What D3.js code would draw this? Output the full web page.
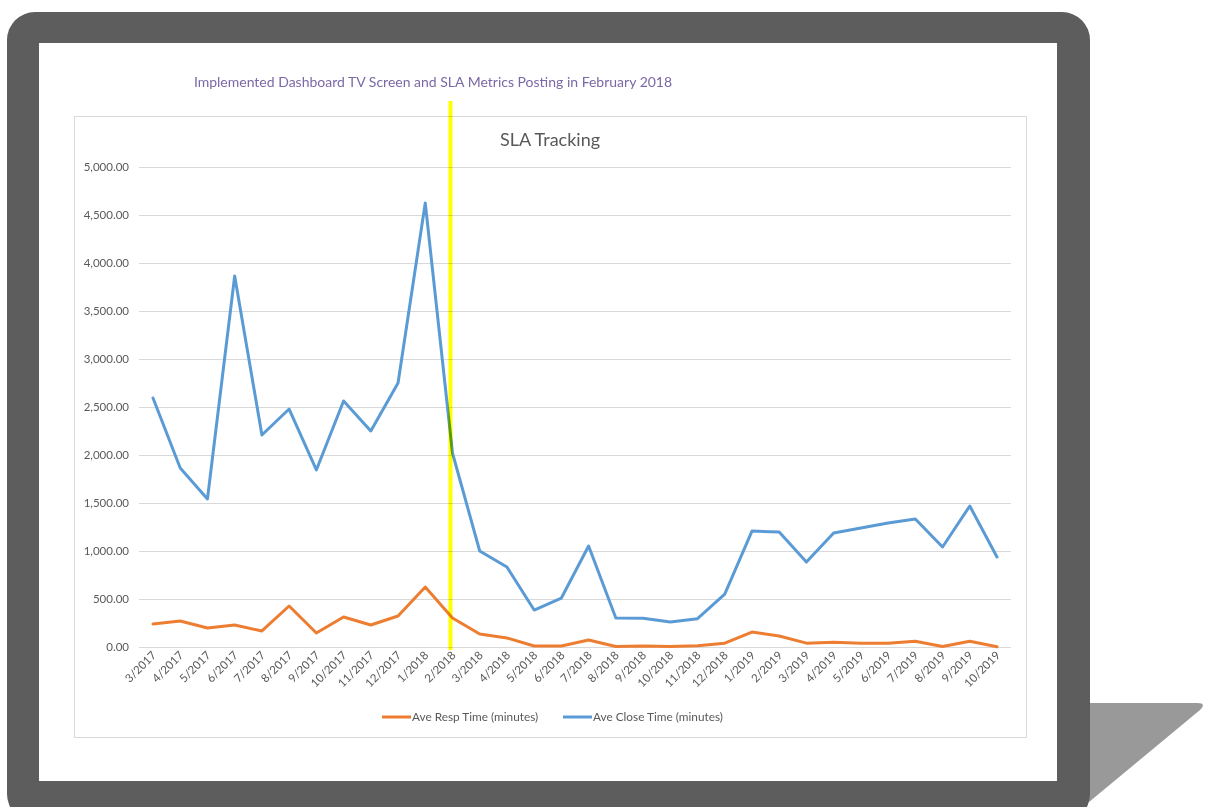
<!DOCTYPE html>
<html>
<head>
<meta charset="utf-8">
<script src="https://cdn.jsdelivr.net/npm/d3@7"></script>
<style>
  body { margin: 0; background: #fff; }
  svg { display: block; font-family: Lato, "Open Sans", sans-serif; }
</style>
</head>
<body>
<svg id="chart" width="1205" height="807"></svg>
<script>
// months on the category axis
var months = ["3/2017","4/2017","5/2017","6/2017","7/2017","8/2017","9/2017","10/2017","11/2017","12/2017",
  "1/2018","2/2018","3/2018","4/2018","5/2018","6/2018","7/2018","8/2018","9/2018","10/2018","11/2018","12/2018",
  "1/2019","2/2019","3/2019","4/2019","5/2019","6/2019","7/2019","8/2019","9/2019","10/2019"];

// Ave Resp Time (minutes)
var respTime = [240, 271, 198, 229, 167, 427, 146, 313, 229, 323, 625, 302,
  135, 94, 10, 10, 73, 5, 10, 5, 12, 40, 156, 115, 40, 50, 40, 40, 60, 5, 60, 3];

// Ave Close Time (minutes)
var closeTime = [2594, 1865, 1542, 3865, 2208, 2479, 1844, 2563, 2250, 2750, 4625, 2021,
  1000, 833, 385, 510, 1052, 302, 300, 260, 295, 550, 1208, 1198, 885, 1188, 1240, 1292, 1333, 1042, 1469, 937];

var yTicks = [0, 500, 1000, 1500, 2000, 2500, 3000, 3500, 4000, 4500, 5000];
var markerMonth = "2/2018";
var seriesNames = ["Ave Resp Time (minutes)", "Ave Close Time (minutes)"];
var seriesColors = ["#ed7d31", "#5b9bd5"];

var svg = d3.select("#chart");

// tablet frame: flap behind, dark bezel, white screen
svg.append("path")
  .attr("d", "M1060,703 L1197,703 Q1207,703 1200,710 L1083,807 L1060,807 Z")
  .attr("fill", "#999999");
svg.append("rect")
  .attr("x", 7).attr("y", 12).attr("width", 1083).attr("height", 810)
  .attr("rx", 28).attr("fill", "#5d5d5d");
svg.append("rect")
  .attr("x", 39).attr("y", 43).attr("width", 1018).attr("height", 738)
  .attr("fill", "#ffffff");

// chart box
svg.append("rect")
  .attr("x", 74.5).attr("y", 116.5).attr("width", 952).attr("height", 621)
  .attr("fill", "none").attr("stroke", "#d9d9d9");

// annotation above chart
svg.append("text")
  .attr("x", 433).attr("y", 87)
  .attr("text-anchor", "middle")
  .attr("font-size", 14)
  .attr("fill", "#7b68a6")
  .text("Implemented Dashboard TV Screen and SLA Metrics Posting in February 2018");

svg.append("text")
  .attr("x", 550).attr("y", 146)
  .attr("text-anchor", "middle")
  .attr("font-size", 18)
  .attr("fill", "#595959")
  .text("SLA Tracking");

var x = d3.scalePoint()
  .domain(months)
  .range([153, 997]);

var y = d3.scaleLinear()
  .domain([0, 5000])
  .range([647, 167]);

// gridlines
svg.append("g")
  .selectAll("line")
  .data(yTicks)
  .enter().append("line")
  .attr("x1", 139).attr("x2", 1011)
  .attr("y1", function(d) { return Math.round(y(d)) + 0.5; })
  .attr("y2", function(d) { return Math.round(y(d)) + 0.5; })
  .attr("stroke", "#d9d9d9");

// y axis labels
var yAxis = svg.append("g")
  .attr("transform", "translate(129,0)")
  .call(d3.axisLeft(y).tickValues(yTicks).tickSize(0).tickFormat(d3.format(",.2f")));
yAxis.select(".domain").remove();
yAxis.selectAll("text")
  .attr("font-family", "Lato, sans-serif")
  .attr("font-size", 11.5)
  .attr("fill", "#595959")
  .attr("x", 0);

// x axis labels, rotated
svg.append("g")
  .selectAll("text")
  .data(months)
  .enter().append("text")
  .attr("transform", function(d) { return "translate(" + (x(d) + 4) + ",656) rotate(-45)"; })
  .attr("text-anchor", "end")
  .attr("font-size", 11.5)
  .attr("fill", "#595959")
  .text(function(d) { return d; });

var line = d3.line()
  .x(function(d, i) { return x(months[i]); })
  .y(function(d) { return y(d); });

svg.append("path")
  .datum(respTime)
  .attr("d", line)
  .attr("fill", "none")
  .attr("stroke", seriesColors[0])
  .attr("stroke-width", 3)
  .attr("stroke-linejoin", "round")
  .attr("stroke-linecap", "round");

svg.append("path")
  .datum(closeTime)
  .attr("d", line)
  .attr("fill", "none")
  .attr("stroke", seriesColors[1])
  .attr("stroke-width", 3)
  .attr("stroke-linejoin", "round")
  .attr("stroke-linecap", "round");

// yellow marker line for the February 2018 change
svg.append("line")
  .attr("x1", x(markerMonth) - 2).attr("x2", x(markerMonth) - 2)
  .attr("y1", 101).attr("y2", 650)
  .attr("stroke", "#ffff00")
  .attr("stroke-width", 4)
  .style("mix-blend-mode", "multiply");

// legend
var legendX = [382, 563];
var legend = svg.append("g");
seriesNames.forEach(function(name, i) {
  legend.append("line")
    .attr("x1", legendX[i]).attr("x2", legendX[i] + 29)
    .attr("y1", 717).attr("y2", 717)
    .attr("stroke", seriesColors[i])
    .attr("stroke-width", 3);
  legend.append("text")
    .attr("x", legendX[i] + 30).attr("y", 721)
    .attr("font-size", 11.8)
    .attr("fill", "#595959")
    .text(name);
});
</script>
</body>
</html>
